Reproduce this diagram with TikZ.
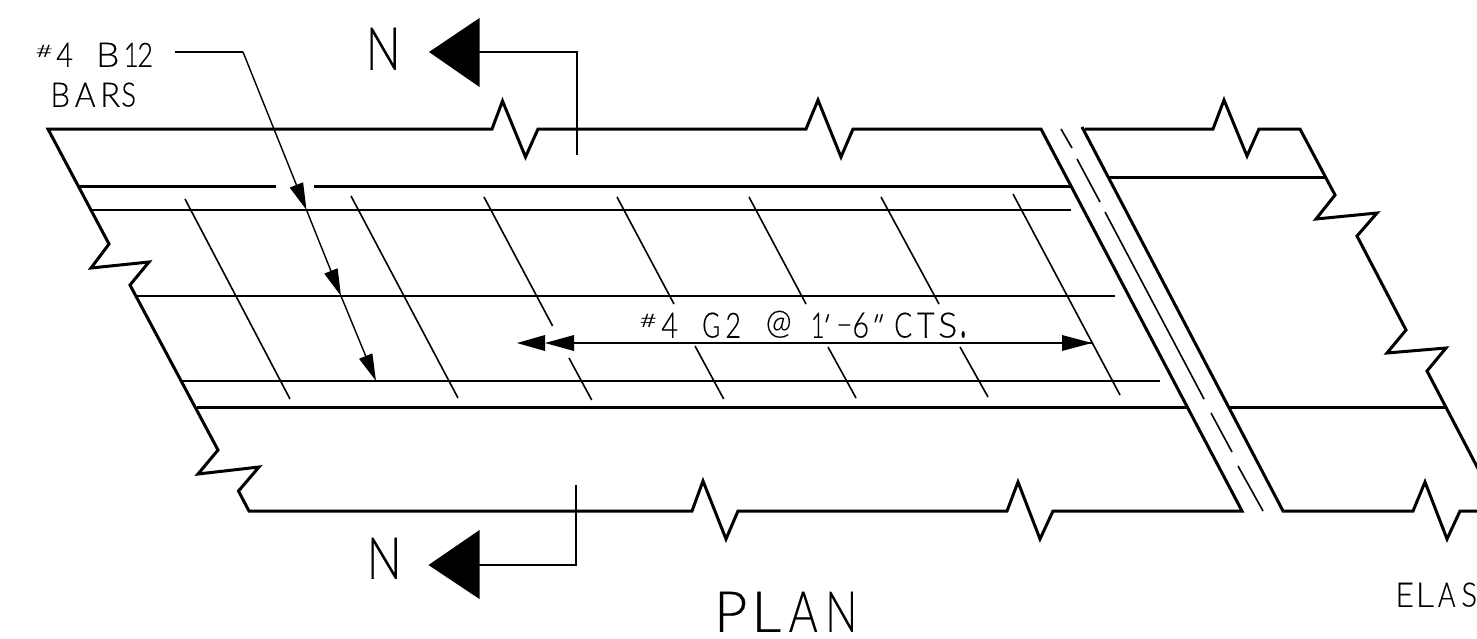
\documentclass[tikz,border=0pt]{standalone}
\usepackage{fontspec}
\setmainfont[FakeBold=0.35]{Lato Light}
\newfontfamily\cadsl[FakeSlant=0.3,FakeBold=0.35]{Lato Light}
\usetikzlibrary{arrows.meta}
% one glyph fitted to an ink width x height on the baseline, then a gap; #1 = percent added for side bearings
\newcommand{\glf}[5]{\kern\dimexpr-#2pt*#1/200\relax\raisebox{\depth}{\resizebox{\dimexpr#2pt*(100+#1)/100\relax}{#3pt}{#4}}\kern\dimexpr-#2pt*#1/200+#5pt\relax}
\newcommand{\gl}{\glf{24}}   % stems on both sides
\newcommand{\glr}{\glf{12}}  % round letters
\newcommand{\gln}{\glf{3}}   % no side bearing
\newcommand{\glraised}[5]{\kern-1.5pt\raisebox{#5pt}{\resizebox{\dimexpr#1pt+3pt\relax}{#2pt}{#3}}\kern\dimexpr#4pt-1.5pt\relax}
\newcommand{\glfree}[2]{\makebox[#1pt][l]{\fontsize{33pt}{33pt}\selectfont #2}}
\tikzset{
  thickline/.style={line width=3pt,line join=miter},
  medline/.style={line width=2.6pt},
  thinline/.style={line width=1.6pt},
  leader/.style={line width=1.4pt,-{Triangle[length=27pt,width=14pt]}},
  cadtext/.style={inner sep=0pt,anchor=south west},
  solidtip/.style={fill=black,draw=none}
}
\begin{document}
\begin{tikzpicture}[x=1pt,y=-1pt]
\path[use as bounding box,fill=white] (0,0) rectangle (1477,638);
% main slab outline
\draw[thickline] (1041,129) -- (853,129) -- (841,157) -- (818,100) -- (806,129) -- (538,129) -- (525.5,157) -- (502.5,101) -- (492,129) -- (48,129)
  -- (109,244) -- (91,268) -- (149,262) -- (130,285) -- (218,450) -- (198,474) -- (259,467) -- (238.5,491) -- (249,511)
  -- (692,511) -- (703,481) -- (726,539) -- (738,511) -- (1007,511) -- (1018,482) -- (1040,539) -- (1053,511) -- (1242,511) -- cycle;
% right slab outline
\draw[thickline] (1085,129) -- (1213,129) -- (1224,100) -- (1247,156) -- (1259,129) -- (1300,129) -- (1335,195) -- (1316,219) -- (1377,213) -- (1357,236)
  -- (1406,330) -- (1387,353) -- (1446,348) -- (1427,371) -- (1485,482);
\draw[thickline] (1082,127) -- (1283,511) -- (1413,511) -- (1425,482) -- (1447,539) -- (1460,511) -- (1485,511);
% thick bars
\draw[thickline] (78.5,186.5) -- (275.5,186.5);
\draw[thickline] (314,186.5) -- (1071,186.5);
\draw[thickline] (197,407.5) -- (1187,407.5);
\draw[thickline] (1108,177) -- (1325,177);
\draw[thickline] (1230,407.5) -- (1447,407.5);
% thin bars
\draw[thinline] (92,210) -- (1071,210);
\draw[thinline] (137,296) -- (1115,296);
\draw[thinline] (181,381) -- (1160,381);
% centre dashed line
\draw[thinline] (1061,129) -- (1072,148);
\draw[thinline] (1077,159) -- (1100,202);
\draw[thinline] (1105,212) -- (1204,399);
\draw[thinline] (1211,413) -- (1232,452);
\draw[thinline] (1238,466) -- (1263,511);
% stirrups
\draw[thinline] (185,199) -- (290,399);
\draw[thinline] (351,196) -- (458,398);
\draw[thinline] (484,197) -- (552.6,326);
\draw[thinline] (569,358) -- (591.7,400);
\draw[thinline] (617,197) -- (674,304);
\draw[thinline] (695,346) -- (723.7,399);
\draw[thinline] (749,197) -- (806,304);
\draw[thinline] (828,347) -- (856,398);
\draw[thinline] (881,197) -- (939,304);
\draw[thinline] (960,347) -- (988,397);
\draw[thinline] (1013,194) -- (1120,395);
% leader
\coordinate (lk) at (243,52);
\coordinate (la) at (306.5,210);
\coordinate (lb) at (341,296);
\coordinate (lc) at (376,381);
\draw[line width=1.4pt] (175,52) -- (lk);
\draw[leader] (lk) -- (la);
\draw[leader] (la) -- (lb);
\draw[leader] (lb) -- (lc);
% dimension
\coordinate (dl) at (574,343);
\coordinate (dr) at (1092,343);
\draw[thinline] (dl) -- (dr);
\fill[solidtip] (dr) -- ++(-30,-8) -- ++(0,16) -- cycle;
\fill[solidtip] (545,343) -- (574,335) -- (574,351) -- cycle;
\fill[solidtip] (517,343) -- (545,335) -- (545,351) -- cycle;
% section marks
\fill[solidtip] (429,52) -- (479.5,18) -- (479.5,87) -- cycle;
\draw[medline] (479,52) -- (577,52) -- (577,155);
\fill[solidtip] (428.5,565) -- (479.5,530) -- (479.5,599) -- cycle;
\draw[medline] (479,565) -- (576,565) -- (576,485);
% texts
\node[cadtext] (nt) at (369,70) {\gl{28}{42}{N}{0}};
\node[cadtext] (nb) at (370,579) {\gl{28}{41}{N}{0}};
\node[cadtext] (plan) at (717,632) {\gl{27}{40}{P}{10}\gl{24}{40}{L}{11}\gln{28}{40}{A}{11}\gl{26}{40}{N}{0}};
\node[cadtext] (elas) at (1397,607) {\gl{15}{24}{E}{5}\gl{15}{24}{L}{6}\gln{17}{24}{A}{7}\glr{14}{24}{S}{0}};
\node[cadtext] (b12) at (37,67) {\glraised{14}{12}{\#}{6}{10}\glr{15}{24}{4}{26}\gl{19}{24}{B}{8}\gl{12}{24}{1}{1}\glr{14}{24}{2}{0}};
\node[cadtext] (bars) at (52,107) {\gl{16}{24}{B}{7}\gln{20}{24}{A}{7}\gl{16}{24}{R}{4}\glr{13}{24}{S}{0}};
\node[cadtext] (g2) at (641,338) {\glraised{14}{13}{\#}{7}{11}\glr{15}{25}{4}{26}\glr{16}{25}{G}{7}\glr{14}{25}{2}{27}\glr{23}{23}{@}{22}\gl{11}{25}{1}{0}\kern-1pt\glfree{13}{\cadsl\kern-4pt'}\glfree{18}{\raisebox{3pt}{\scalebox{1.5}[1]{-}}}\glr{15}{25}{6}{3}\glfree{26}{\cadsl\kern-4pt"}\kern-2pt\glr{16}{25}{C}{6}\gln{17}{25}{T}{5}\glr{17}{25}{S}{4}\gl{6}{6}{.}{0}};
\end{tikzpicture}
\end{document}
